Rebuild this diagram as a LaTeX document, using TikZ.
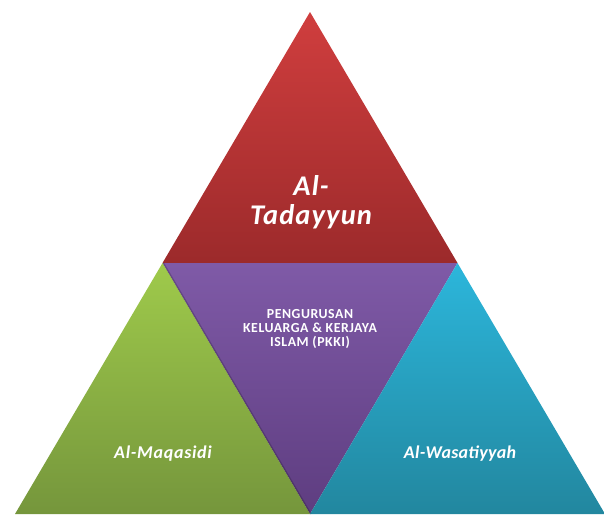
\documentclass[tikz,border=0pt]{standalone}
\usepackage{fontspec}
\setmainfont{Carlito}
\newfontfamily\widefont[LetterSpace=4]{Carlito}
\newfontfamily\narfont[LetterSpace=1.5]{Carlito}
\definecolor{redtop}{HTML}{D03E3E}
\definecolor{redbot}{HTML}{9C2A2B}
\definecolor{purtop}{HTML}{7F5AA7}
\definecolor{purbot}{HTML}{5E3D80}
\definecolor{grntop}{HTML}{9FCA4B}
\definecolor{grnbot}{HTML}{75963C}
\definecolor{blutop}{HTML}{2CB6DB}
\definecolor{blubot}{HTML}{22879F}
\tikzset{
  bigtxt/.style={text=white, font=\widefont\fontsize{28.5}{30}\selectfont\bfseries\itshape, align=center},
  sidetxt/.style={text=white, font=\widefont\fontsize{18}{20}\selectfont\bfseries\itshape},
  sidetxtb/.style={text=white, font=\narfont\fontsize{18}{20}\selectfont\bfseries\itshape},
  midtxt/.style={text=white, font=\widefont\fontsize{13.8}{14}\selectfont\bfseries, align=center},
}
\begin{document}
\begin{tikzpicture}[x=1pt,y=-1pt]
\useasboundingbox (0,0) rectangle (604,514);
\coordinate (A) at (310,12);
\coordinate (ML) at (162.5,263);
\coordinate (MR) at (457.5,263);
\coordinate (BL) at (15,514);
\coordinate (BR) at (605,514);
\coordinate (BM) at (310,514);
% top red
\shade[top color=redtop, bottom color=redbot] (A) -- (MR) -- (ML) -- cycle;
% middle purple
\shade[top color=purtop, bottom color=purbot] (ML) -- (MR) -- (BM) -- cycle;
% right blue
\shade[top color=blutop, bottom color=blubot] (MR) -- (BR) -- (BM) -- cycle;
% left green
\shade[top color=grntop, bottom color=grnbot] (ML) -- (BM) -- (BL) -- cycle;
\draw[black, opacity=0.18, line width=1.6pt] ([xshift=0.8pt]ML) -- ([xshift=0.8pt]BM);
% texts
\node[bigtxt, anchor=base] (t1) at (311,195) {Al-};
\node[bigtxt, anchor=base] (t2) at (311,224) {Tadayyun};
\node[midtxt, anchor=base] (m1) at (310,318) {PENGURUSAN};
\node[midtxt, anchor=base] (m2) at (310,332) {KELUARGA \& KERJAYA};
\node[midtxt, anchor=base] (m3) at (310,346) {ISLAM (PKKI)};
\node[sidetxt, anchor=base] (g) at (163,458) {Al-Maqasidi};
\node[sidetxtb, anchor=base] (b) at (460,458) {Al-Wasatiyyah};
\end{tikzpicture}
\end{document}
